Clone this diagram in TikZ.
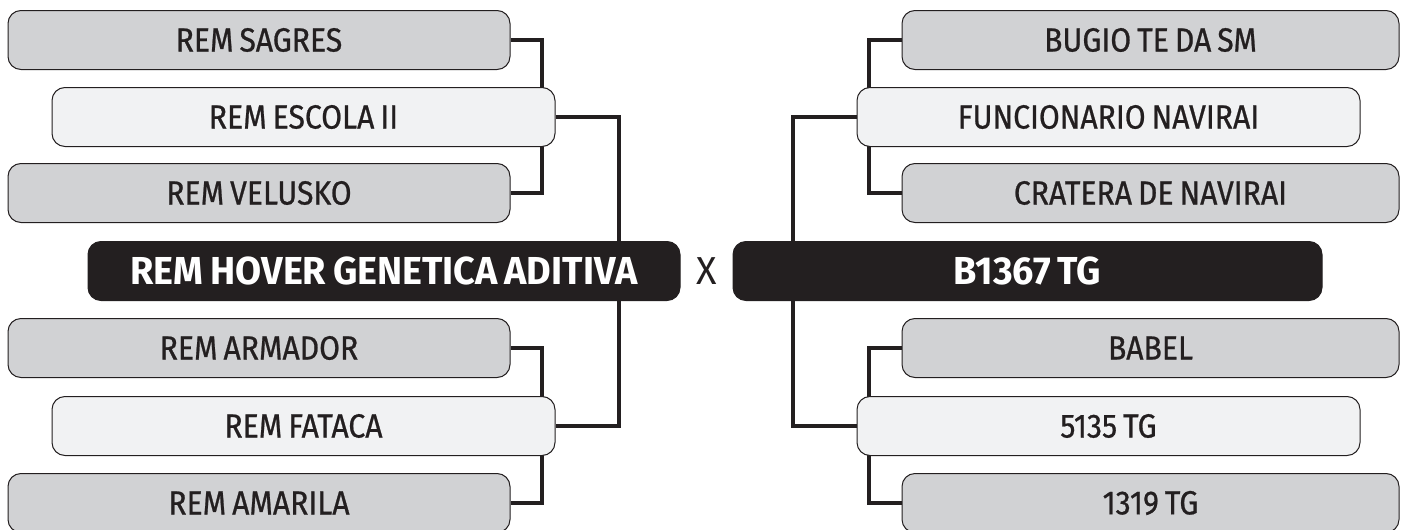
\documentclass[tikz,border=0pt]{standalone}
\usepackage{fontspec}
\setmainfont{Fira Sans}[FakeStretch=0.9, FakeBold=0.7, WordSpace=0.75]
\newfontfamily\sirefont{Fira Sans}[FakeStretch=0.97, WordSpace=0.75]
\usepackage{xcolor}
\usepackage{tikz}
\usetikzlibrary{backgrounds}
\definecolor{ink}{HTML}{231F20}
\definecolor{grayfill}{HTML}{D1D2D4}
\definecolor{lightfill}{HTML}{F1F2F3}
\tikzset{
  box/.style={draw=ink, line width=1pt, rounded corners=13pt, minimum height=59pt,
    inner sep=0pt, text=ink, font=\fontsize{33.5}{36}\selectfont},
  outer/.style={box, fill=grayfill, minimum width=502pt},
  inner/.style={box, fill=lightfill, minimum width=503pt},
  sire/.style={box, fill=ink, text=white, font=\sirefont\fontsize{39}{42}\selectfont\bfseries},
  link/.style={draw=ink, line width=4pt, line cap=butt, line join=miter},
}
\begin{document}
\begin{tikzpicture}[x=1pt,y=-1pt]
  \useasboundingbox (0,0) rectangle (1401,530);
  % left side
  \node[outer] (sagres)  at (259,40)    {REM SAGRES};
  \node[inner] (escola)  at (303.5,117) {REM ESCOLA II};
  \node[outer] (velusko) at (259,193)   {REM VELUSKO};
  \node[sire, minimum width=592pt] (hover) at (384,271) {REM HOVER GENETICA ADITIVA};
  \node[outer] (armador) at (259,348)   {REM ARMADOR};
  \node[inner] (fataca)  at (303.5,426) {REM FATACA};
  \node[outer] (amarila) at (259,503)   {REM AMARILA};
  \node[text=ink, font=\sirefont\fontsize{39}{42}\selectfont] (vs) at (707,271) {X};
  % right side
  \node[outer, minimum width=497pt] (bugio)   at (1150.5,40) {BUGIO TE DA SM};
  \node[inner] (funcionario) at (1108.5,117) {FUNCIONARIO NAVIRAI};
  \node[outer, minimum width=497pt] (cratera) at (1150.5,193) {CRATERA DE NAVIRAI};
  \node[sire, minimum width=589pt] (bagre) at (1027.5,271) {B1367 TG};
  \node[outer, minimum width=497pt] (babel)   at (1150.5,348) {BABEL};
  \node[inner] (tg5135)  at (1108.5,426) {5135 TG};
  \node[outer, minimum width=497pt] (tg1319)  at (1150.5,503) {1319 TG};
  \begin{scope}[on background layer]
    \draw[link] (sagres.east) -- ++(31,0) |- (velusko.east);
    \draw[link] (armador.east) -- ++(31,0) |- (amarila.east);
    \draw[link] (escola.east) -- ++(63,0) |- (fataca.east);
    \draw[link] (bugio.west) -- ++(-33,0) |- (cratera.west);
    \draw[link] (babel.west) -- ++(-33,0) |- (tg1319.west);
    \draw[link] (funcionario.west) -- ++(-64,0) |- (tg5135.west);
  \end{scope}
\end{tikzpicture}
\end{document}
